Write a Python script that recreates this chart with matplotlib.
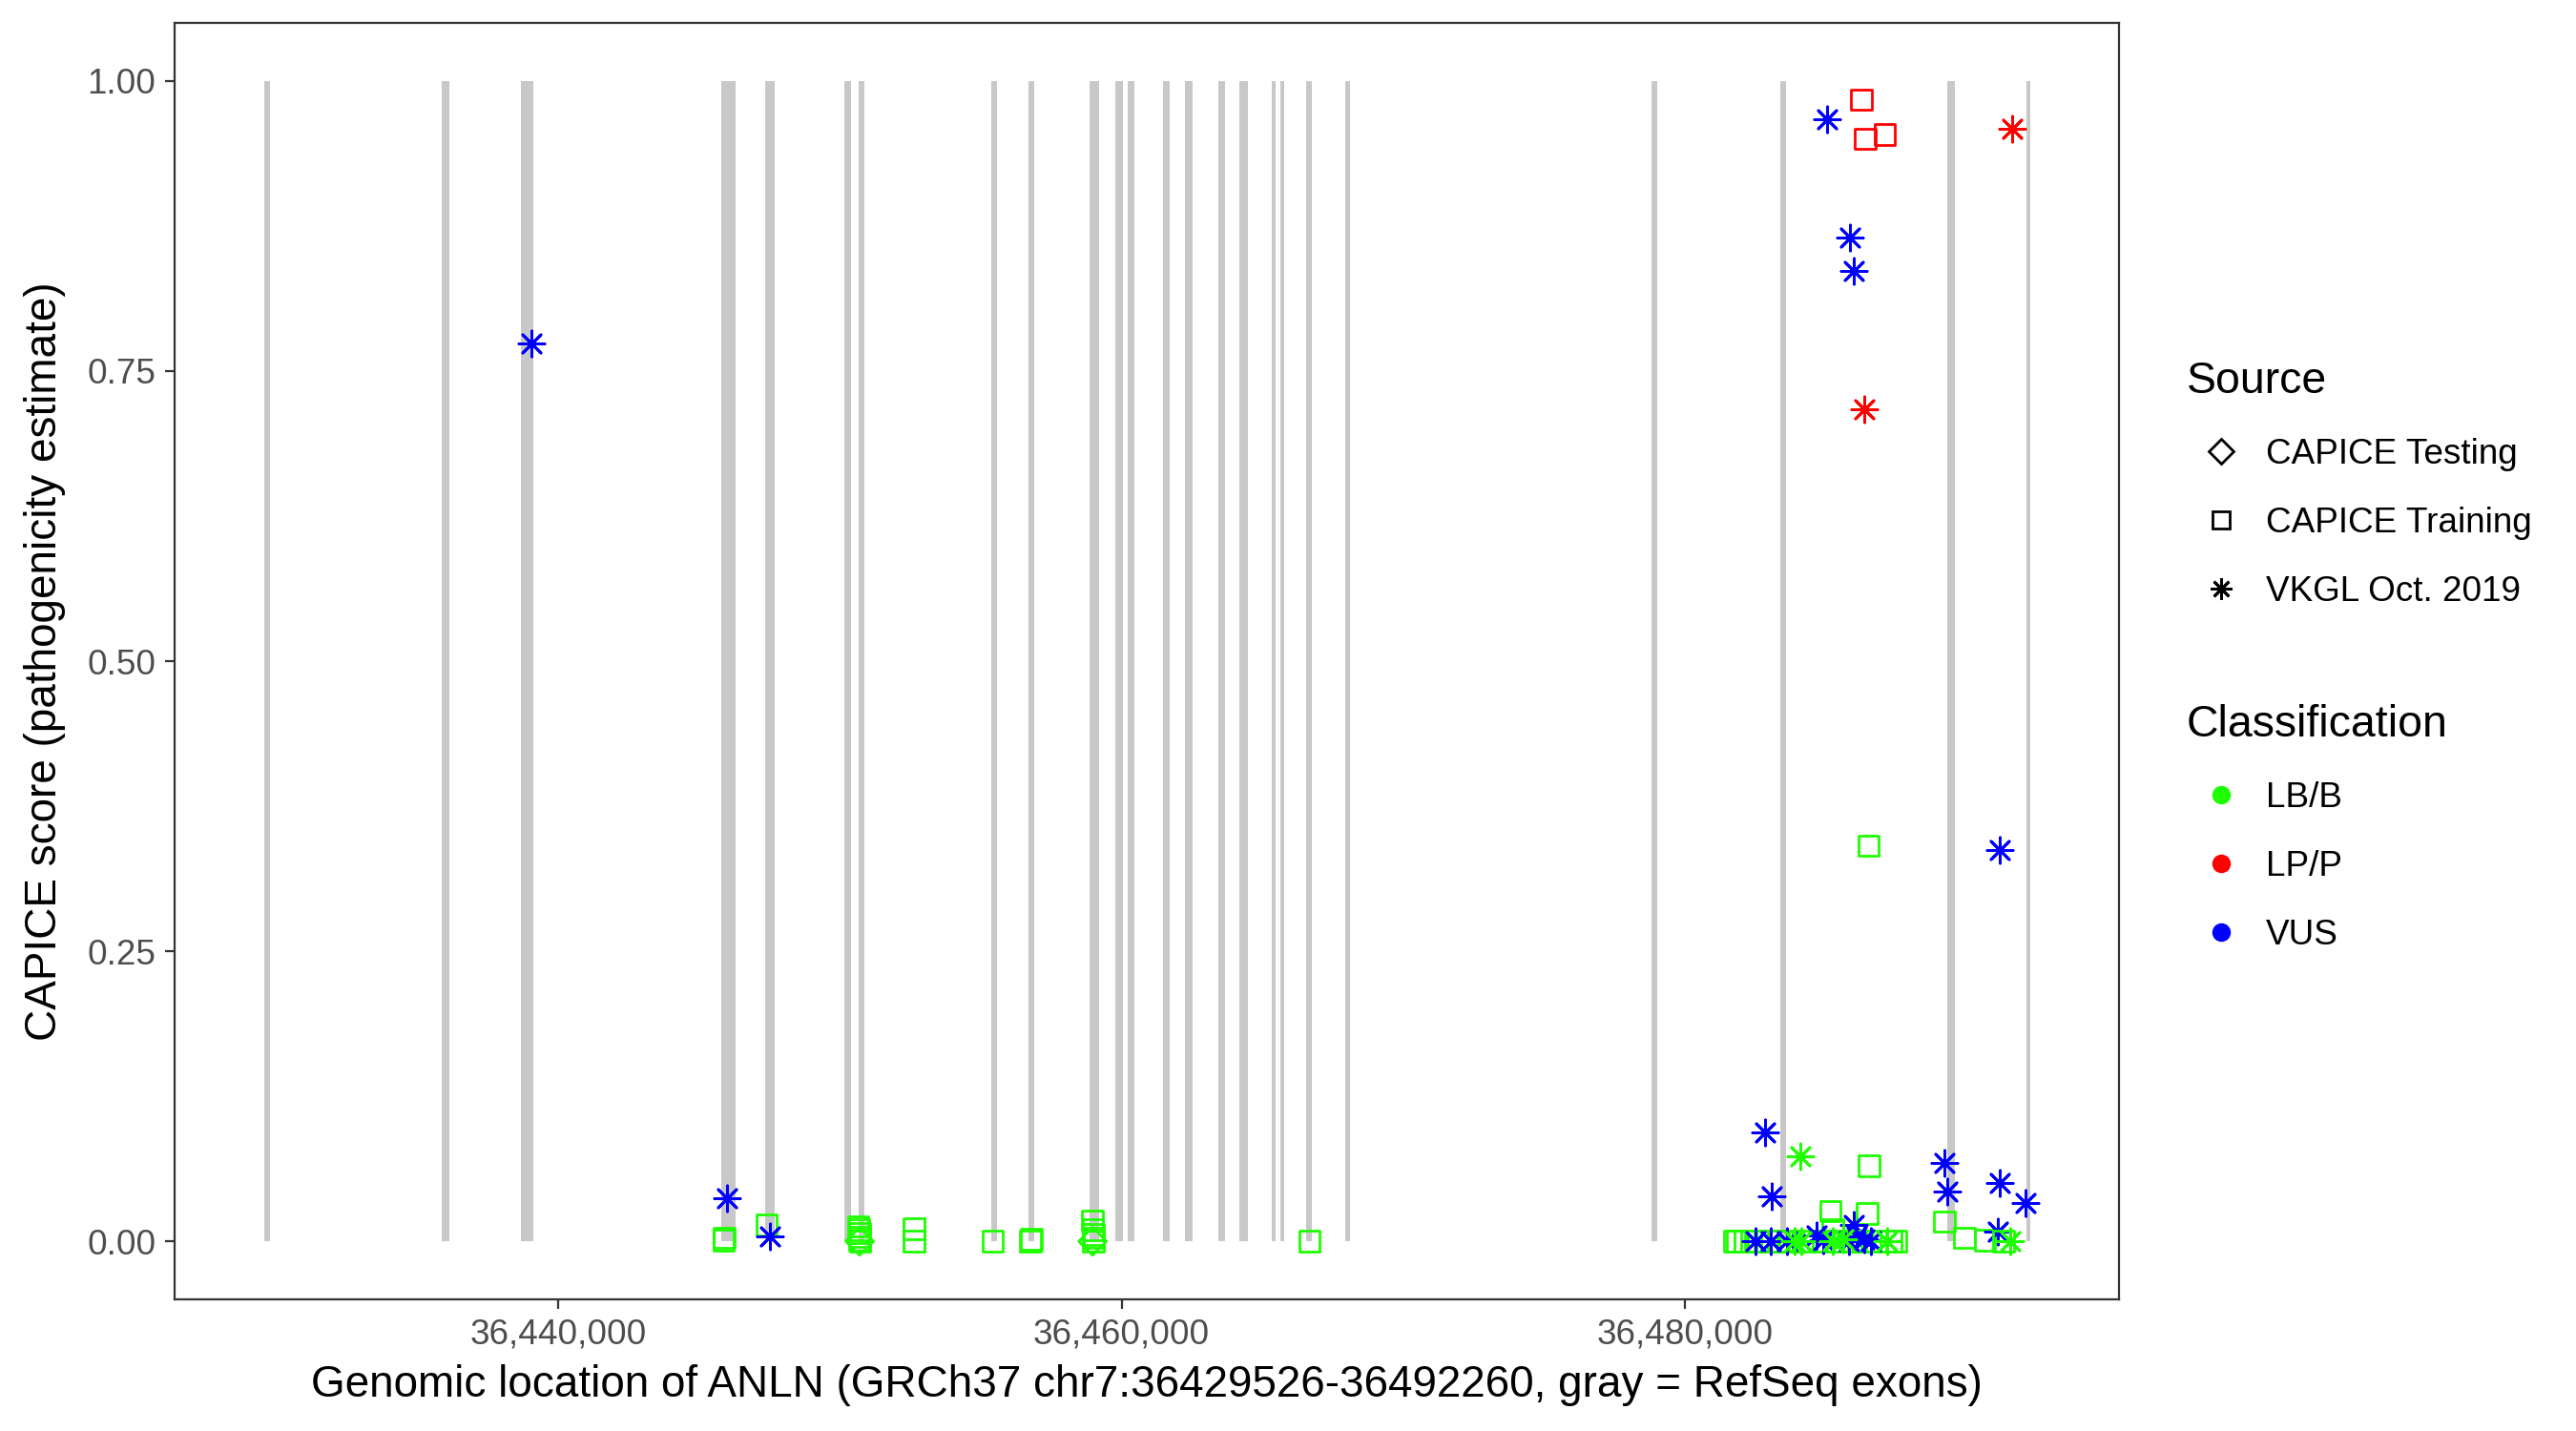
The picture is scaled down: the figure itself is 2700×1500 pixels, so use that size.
import numpy as np
import matplotlib.pyplot as plt
from matplotlib.lines import Line2D
from matplotlib.ticker import FuncFormatter

plt.rcParams['font.family'] = ['Liberation Sans', 'DejaVu Sans']

gene_start = 36429526
gene_end = 36492260

# RefSeq exons of ANLN
exon_start = [36429560, 36435875, 36438681, 36445782, 36447337, 36450143, 36450684,
              36455384, 36456702, 36458866, 36459779, 36460218, 36461469, 36462247,
              36463430, 36464174, 36465324, 36465628, 36466541, 36467927, 36478814,
              36483378, 36489295, 36492101]
exon_end = [36429789, 36436146, 36439121, 36446289, 36447675, 36450413, 36450887,
            36455586, 36456905, 36459204, 36460049, 36460455, 36461706, 36462517,
            36463667, 36464478, 36465459, 36465763, 36466744, 36468096, 36479017,
            36483581, 36489565, 36492260]

# variants: position, CAPICE score, source, classification
var_pos = [
    36439068, 36445997, 36445880, 36445900, 36447394, 36447510,
    36450650, 36450680, 36450700, 36450720, 36450690, 36450700, 36450710,
    36452634, 36452634, 36455428, 36456767, 36456800,
    36458960, 36458980, 36459000, 36459010, 36458990, 36458970, 36466665,
    # right cluster
    36486252, 36485021, 36486388, 36487084, 36491592, 36485853, 36485996, 36486372,
    36486507, 36491154, 36482827, 36484088, 36486523, 36483075, 36485146, 36486465,
    36485972, 36485238,
    36481745, 36481856, 36482100, 36482350, 36482600, 36482900, 36483300, 36483700,
    36484300, 36484900, 36485400, 36485900, 36486300, 36486800, 36487300, 36487493,
    36482509, 36483040, 36483604, 36484674, 36485802, 36486366, 36486591, 36484900,
    36486100,
    36484111, 36485238, 36487155, 36483900, 36485600,
    36489196, 36489311, 36489919, 36490640, 36491181, 36492071, 36491083, 36491536,
    36489194, 36491300,
]
var_score = [
    0.774, 0.037, 0.001, 0.003, 0.014, 0.004,
    0.013, 0.010, 0.007, 0.004, 0.001, 0.000, 0.000,
    0.011, 0.000, 0.000, 0.000, 0.002,
    0.018, 0.010, 0.006, 0.003, 0.000, 0.000, 0.000,
    0.984, 0.967, 0.950, 0.954, 0.959, 0.865, 0.836, 0.717,
    0.341, 0.337, 0.094, 0.073, 0.065, 0.039, 0.026, 0.024,
    0.014, 0.010,
    0.000, 0.000, 0.000, 0.000, 0.000, 0.000, 0.000, 0.000,
    0.000, 0.000, 0.000, 0.000, 0.000, 0.000, 0.000, 0.000,
    0.000, 0.000, 0.000, 0.005, 0.000, 0.002, 0.000, 0.001,
    0.004,
    0.000, 0.000, 0.000, 0.000, 0.002,
    0.0675, 0.043, 0.003, 0.001, 0.050, 0.033, 0.008, 0.000,
    0.017, 0.000,
]
var_source = (
    ['vkgl', 'vkgl', 'train', 'train', 'train', 'vkgl',
     'train', 'train', 'train', 'train', 'train', 'test', 'train',
     'train', 'train', 'train', 'train', 'train',
     'train', 'train', 'train', 'train', 'train', 'test', 'train',
     'train', 'vkgl', 'train', 'train', 'vkgl', 'vkgl', 'vkgl', 'vkgl',
     'train', 'vkgl', 'vkgl', 'vkgl', 'train', 'vkgl', 'train', 'train',
     'vkgl', 'train']
    + ['train'] * 16
    + ['vkgl'] * 9
    + ['vkgl'] * 5
    + ['vkgl', 'vkgl', 'train', 'train', 'vkgl', 'vkgl', 'vkgl', 'vkgl',
       'train', 'train']
)
var_class = (
    ['VUS', 'VUS', 'LB/B', 'LB/B', 'LB/B', 'VUS',
     'LB/B', 'LB/B', 'LB/B', 'LB/B', 'LB/B', 'LB/B', 'LB/B',
     'LB/B', 'LB/B', 'LB/B', 'LB/B', 'LB/B',
     'LB/B', 'LB/B', 'LB/B', 'LB/B', 'LB/B', 'LB/B', 'LB/B',
     'LP/P', 'VUS', 'LP/P', 'LP/P', 'LP/P', 'VUS', 'VUS', 'LP/P',
     'LB/B', 'VUS', 'VUS', 'LB/B', 'LB/B', 'VUS', 'LB/B', 'LB/B',
     'VUS', 'LB/B']
    + ['LB/B'] * 16
    + ['VUS'] * 9
    + ['LB/B'] * 5
    + ['VUS', 'VUS', 'LB/B', 'LB/B', 'VUS', 'VUS', 'VUS', 'LB/B',
       'LB/B', 'LB/B']
)

class_colors = {'LB/B': '#1EFF00', 'LP/P': '#FF0000', 'VUS': '#0000FF'}
source_markers = {'test': 'D', 'train': 's', 'vkgl': (8, 2, 0)}
source_labels = {'test': 'CAPICE Testing', 'train': 'CAPICE Training', 'vkgl': 'VKGL Oct. 2019'}
source_size = {'test': 55, 'train': 60, 'vkgl': 95}

fig = plt.figure(figsize=(13.5, 7.5), dpi=200)
ax = fig.add_axes([183 / 2700, 1 - 1362 / 1500, (2221 - 183) / 2700, (1362 - 24) / 1500])

# exons as gray bars
ax.bar(exon_start, [1] * len(exon_start), width=np.array(exon_end) - np.array(exon_start),
       bottom=0, align='edge', color='#C8C8C8', linewidth=0, zorder=1)

for p, s, src, cl in zip(var_pos, var_score, var_source, var_class):
    m = source_markers[src]
    if src == 'vkgl':
        ax.scatter(p, s, marker=m, s=source_size[src], color=class_colors[cl],
                   linewidths=1.0, zorder=3)
    else:
        ax.scatter(p, s, marker=m, s=source_size[src], facecolors='none',
                   edgecolors=class_colors[cl], linewidths=1.0, zorder=3)

span = gene_end - gene_start
ax.set_xlim(gene_start - 0.05 * span, gene_end + 0.05 * span)
ax.set_ylim(-0.05, 1.05)
ax.set_xticks([36440000, 36460000, 36480000])
ax.xaxis.set_major_formatter(FuncFormatter(lambda v, _: f'{int(v):,}'))
ax.set_yticks([0, 0.25, 0.5, 0.75, 1.0])
ax.yaxis.set_major_formatter(FuncFormatter(lambda v, _: f'{v:.2f}'))

for sp in ax.spines.values():
    sp.set_color('#333333')
    sp.set_linewidth(0.8)
ax.tick_params(colors='#333333', labelcolor='#4D4D4D', labelsize=13.3, length=3.5, width=0.8)

ax.set_xlabel('Genomic location of ANLN (GRCh37 chr7:36429526-36492260, gray = RefSeq exons)',
              fontsize=16.5, labelpad=5)
ax.set_ylabel('CAPICE score (pathogenicity estimate)', fontsize=16.5, labelpad=8)

# legends
src_handles = []
for key in ['test', 'train', 'vkgl']:
    if key == 'vkgl':
        h = Line2D([], [], marker=source_markers[key], color='black', linestyle='none',
                   markersize=8, markeredgewidth=1.0)
    else:
        h = Line2D([], [], marker=source_markers[key], color='black', linestyle='none',
                   markerfacecolor='none', markersize=6.5, markeredgewidth=1.0)
    src_handles.append(h)
leg1 = fig.legend(src_handles, [source_labels[k] for k in ['test', 'train', 'vkgl']],
                  title='Source', loc='upper left', bbox_to_anchor=(2273 / 2700, 1 - 360 / 1500),
                  frameon=False, fontsize=13.3, title_fontsize=16.7, alignment='left',
                  labelspacing=1.0, handletextpad=0.25, borderpad=0)

cls_handles = [Line2D([], [], marker='o', color=class_colors[c], linestyle='none', markersize=6)
               for c in ['LB/B', 'LP/P', 'VUS']]
leg2 = fig.legend(cls_handles, ['LB/B', 'LP/P', 'VUS'],
                  title='Classification', loc='upper left', bbox_to_anchor=(2273 / 2700, 1 - 720 / 1500),
                  frameon=False, fontsize=13.3, title_fontsize=16.7, alignment='left',
                  labelspacing=1.0, handletextpad=0.25, borderpad=0)

fig.savefig('out.png', dpi=200, facecolor='white')
